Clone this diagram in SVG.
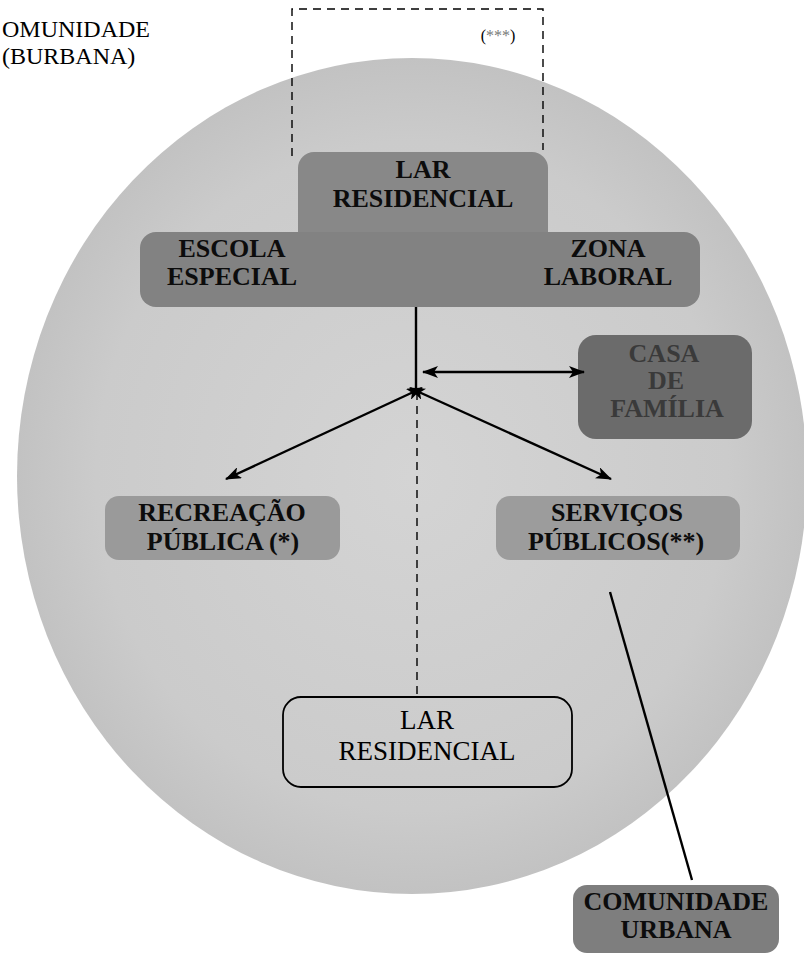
<svg xmlns="http://www.w3.org/2000/svg" width="804" height="954" viewBox="0 0 804 954">
<defs>
<radialGradient id="bg" cx="0.5" cy="0.5" r="0.5">
<stop offset="0" stop-color="#d4d4d4"/>
<stop offset="0.8" stop-color="#cbcbcb"/>
<stop offset="1" stop-color="#c2c2c2"/>
</radialGradient>
<marker id="ah" viewBox="0 0 16 12" refX="15" refY="6" markerWidth="16" markerHeight="12" markerUnits="userSpaceOnUse" orient="auto-start-reverse">
<path d="M0,0 L16,6 L0,12 L4,6 z" fill="#000"/>
</marker>
</defs>
<style>
.lbl{font-family:"Liberation Serif","Times New Roman",serif;text-anchor:middle;}
.b{font-weight:bold;font-size:26px;fill:#0c0c0c;}
.dk{fill:#3a3a3a;}
.n{font-size:27px;fill:#000;}
.corner{font-family:"Liberation Serif","Times New Roman",serif;font-size:24px;fill:#000;}
.ln{stroke:#000;stroke-width:2.4;fill:none;}
.dash{stroke:#000;stroke-width:1.4;fill:none;stroke-dasharray:8 6;}
</style>
<rect width="804" height="954" fill="#fff"/>
<ellipse id="urban-circle" cx="412" cy="476" rx="395" ry="418" fill="url(#bg)"/>

<g id="corner-label">
<text class="corner" x="2" y="37">OMUNIDADE</text>
<text class="corner" x="2" y="64">(BURBANA)</text>
</g>

<g id="dashed-area">
<path class="dash" d="M292,156 V9 H543 V150"/>
<text x="498" y="41" font-family="Liberation Serif, serif" font-size="16" fill="#000" text-anchor="middle">(<tspan fill="#777">***</tspan>)</text>
</g>

<g id="lar-escola-zona">
<rect x="298" y="152" width="250" height="100" rx="16" fill="#888"/>
<rect x="140" y="232" width="560" height="75" rx="16" fill="#828282"/>
<text class="lbl b" x="423" y="178">LAR</text>
<text class="lbl b" x="423" y="207">RESIDENCIAL</text>
<text class="lbl b" x="232" y="257">ESCOLA</text>
<text class="lbl b" x="232" y="285">ESPECIAL</text>
<text class="lbl b" x="608" y="257">ZONA</text>
<text class="lbl b" x="608" y="285">LABORAL</text>
</g>

<g id="casa-familia">
<rect x="578" y="335" width="174" height="104" rx="18" fill="#6b6b6b"/>
<text class="lbl b dk" x="664" y="362">CASA</text>
<text class="lbl b dk" x="666" y="389">DE</text>
<text class="lbl b dk" x="667" y="417">FAMÍLIA</text>
</g>

<g id="recreacao">
<rect x="105" y="496" width="235" height="64" rx="14" fill="#9a9a9a"/>
<text class="lbl b" x="222" y="521">RECREAÇÃO</text>
<text class="lbl b" x="223" y="550">PÚBLICA (*)</text>
</g>

<g id="servicos">
<rect x="496" y="496" width="244" height="64" rx="14" fill="#9c9c9c"/>
<text class="lbl b" x="617" y="521">SERVIÇOS</text>
<text class="lbl b" x="616" y="550">PÚBLICOS(**)</text>
</g>

<g id="lar-residencial">
<rect x="283" y="697" width="289" height="90" rx="18" fill="none" stroke="#000" stroke-width="1.8"/>
<text class="lbl n" x="427" y="729">LAR</text>
<text class="lbl n" x="427" y="760">RESIDENCIAL</text>
</g>

<g id="comunidade-urbana">
<rect x="573" y="885" width="206" height="68" rx="14" fill="#7e7e7e"/>
<text class="lbl b" x="676" y="910">COMUNIDADE</text>
<text class="lbl b" x="676" y="938">URBANA</text>
</g>

<g id="connectors">
<line class="ln" x1="416" y1="307" x2="416" y2="392"/>
<line class="dash" x1="417" y1="392" x2="417" y2="697"/>
<line class="ln" x1="423" y1="372" x2="584" y2="372" marker-start="url(#ah)" marker-end="url(#ah)"/>
<line class="ln" x1="422" y1="388" x2="226" y2="479" marker-start="url(#ah)" marker-end="url(#ah)"/>
<line class="ln" x1="410" y1="388" x2="611" y2="479" marker-start="url(#ah)" marker-end="url(#ah)"/>
<line class="ln" x1="610" y1="592" x2="692" y2="880"/>
</g>
</svg>
